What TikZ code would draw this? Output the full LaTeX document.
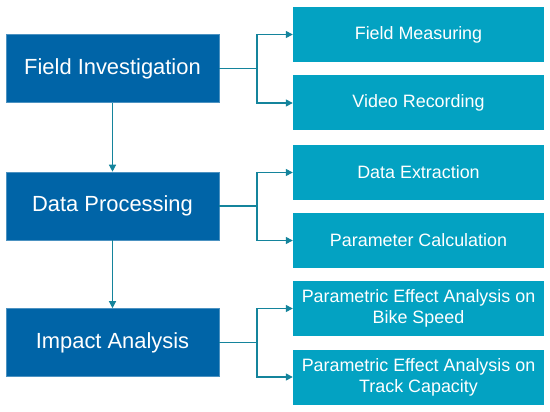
\documentclass[tikz,border=0pt]{standalone}
\usepackage{fontspec}
\setmainfont{Liberation Sans}
\usetikzlibrary{arrows.meta}
\definecolor{darkbox}{HTML}{0064A7}
\definecolor{lightbox}{HTML}{03A2C2}
\definecolor{conn}{HTML}{14849C}
\tikzset{
  mainbox/.style={fill=darkbox, draw=darkbox!70!white, line width=0.6pt, text=white, minimum width=213pt, minimum height=68pt, inner sep=0pt, font=\fontsize{21.9}{24}\selectfont},
  subbox/.style={fill=lightbox, text=white, minimum width=251pt, minimum height=55pt, inner sep=0pt, align=center, font=\fontsize{17.9}{21}\selectfont},
  conarrow/.style={draw=conn, line width=1.3pt, -{Triangle[length=7pt,width=7pt]}}
}
\begin{document}
\begin{tikzpicture}[x=1pt,y=-1pt]
\useasboundingbox (0,0) rectangle (550,412);
\node[mainbox] (fi) at (112.5,68.5) {Field Investigation};
\node[mainbox] (dp) at (112.5,206) {Data Processing};
\node[mainbox] (ia) at (112.5,342.5) {Impact Analysis};
\node[subbox] (fm) at (418.5,34.5) {Field Measuring};
\node[subbox] (vr) at (418.5,103) {Video Recording};
\node[subbox] (de) at (418.5,172.5) {Data Extraction};
\node[subbox] (pc) at (418.5,240.5) {Parameter Calculation};
\node[subbox] (bs) at (418.5,308.5) {Parametric Effect Analysis on\\Bike Speed};
\node[subbox] (tc) at (418.5,377) {Parametric Effect Analysis on\\Track Capacity};
\coordinate (j1) at (257,68.5);
\coordinate (j2) at (257,206);
\coordinate (j3) at (257,342.5);
\draw[conarrow] (fi.east) -- (j1) |- (fm.west);
\draw[conarrow] (j1) |- (vr.west);
\draw[conarrow] (dp.east) -- (j2) |- (de.west);
\draw[conarrow] (j2) |- (pc.west);
\draw[conarrow] (ia.east) -- (j3) |- (bs.west);
\draw[conarrow] (j3) |- (tc.west);
\draw[conarrow] (fi.south) -- (dp.north);
\draw[conarrow] (dp.south) -- (ia.north);
\end{tikzpicture}
\end{document}
